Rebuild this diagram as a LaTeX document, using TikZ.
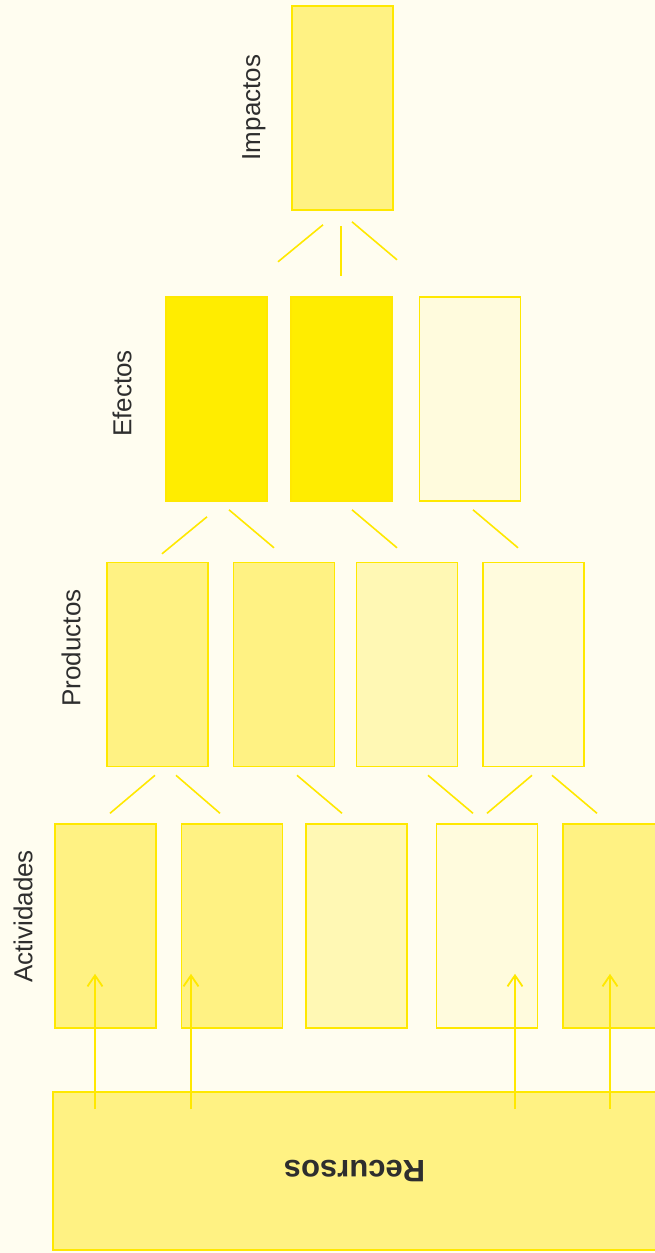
\documentclass[tikz,border=0pt]{standalone}
\usepackage{fontspec}
\setmainfont{Liberation Sans}
\usepackage{tikz}
\usetikzlibrary{positioning,arrows.meta,calc}
\definecolor{paper}{HTML}{FFFDF0}
\definecolor{edgec}{HTML}{FFE800}
\definecolor{strongc}{HTML}{FFED00}
\definecolor{midc}{HTML}{FFF283}
\definecolor{softc}{HTML}{FFF8B4}
\definecolor{palec}{HTML}{FFFBDD}
\definecolor{inkc}{HTML}{2E2E2E}
\newcommand{\tierbox}[4]{%
  \node[cellbox,fill=#4] (#1) at (#2,#3) {};
}

\begin{document}
\begin{tikzpicture}[x=1pt,y=-1pt,
  cellbox/.style={draw=edgec,line width=1.6pt,minimum width=101pt,minimum height=204pt,inner sep=0pt},
  tierlabel/.style={rotate=90,text=inkc,inner sep=0pt,font=\fontsize{26}{31}\selectfont},
  hint/.style={edgec,line width=1.6pt},
  feed/.style={edgec,line width=1.8pt,-{Straight Barb[length=11pt,width=15pt]}}]
  \fill[paper] (0,0) rectangle (655,1253);
  \clip (0,0) rectangle (655,1253);

  \tierbox{imp}{342.5}{108}{midc}
  \node[tierlabel] (limp) at (254,107.5) {Impactos};

  \foreach \n/\cx/\c in {e1/216.5/strongc,e2/341.5/strongc,e3/470/palec} {\tierbox{\n}{\cx}{399}{\c}}
  \node[tierlabel] (lef) at (122,393.5) {Efectos};

  \foreach \n/\cx/\c in {p1/157.5/midc,p2/284/midc,p3/407/softc,p4/533.5/palec} {\tierbox{\n}{\cx}{664.5}{\c}}
  \node[tierlabel] (lpr) at (71,648) {Productos};

  \foreach \n/\cx/\c in {a1/105.5/midc,a2/232/midc,a3/356.5/softc,a4/487/palec,a5/613.5/midc} {\tierbox{\n}{\cx}{926}{\c}}
  \node[tierlabel] (lact) at (23,916.5) {Actividades};

  \node[cellbox,fill=midc,minimum width=603pt,minimum height=158pt,text=inkc,
    font=\bfseries\fontsize{31}{37}\selectfont] (rec) at (354.5,1171) {\rotatebox{180}{Recursos}};

  \foreach \n/\dx/\dy/\vx/\vy in {imp/-19.5/14/-45/37,imp/-1.5/15/0/50,imp/9.5/11/45/38,
      e1/-9.5/15/-45/37,e1/12.5/8/45/38,e2/10.5/8/45/38,e3/3/8/45/38,
      p1/-2.5/8/-45/38,p1/18.5/8/44/38,p2/13/8/45/38,p3/21/8/45/38,p4/-1.5/8/-45/38,p4/18.5/8/45/38}
    \draw[hint] ($(\n.south)+(\dx,\dy)$) -- ++(\vx,\vy);

  \foreach \x/\a in {95/a1,191/a2,515/a4,610/a5}
    \draw[feed] ($(\x,0 |- rec.north)+(0,18)$) -- ($(\x,0 |- \a.south)+(0,-55)$);
\end{tikzpicture}
\end{document}
